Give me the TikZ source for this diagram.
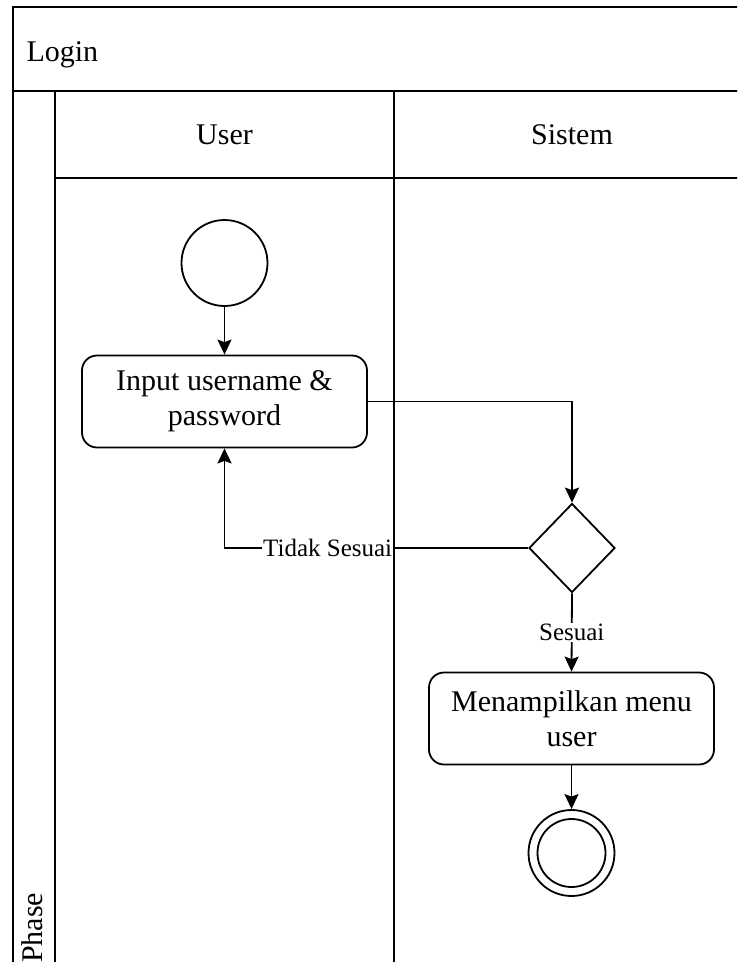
\documentclass[tikz,border=0pt]{standalone}
\usepackage{fontspec}
\setmainfont{Liberation Serif}
\usetikzlibrary{shapes.geometric,arrows.meta}
\begin{document}
\begin{tikzpicture}[x=1pt,y=-1pt,
  frame/.style={line width=2pt},
  conn/.style={line width=1.8pt,-{Stealth[length=15pt,width=14pt,inset=2.5pt]}},
  big/.style={font=\fontsize{30}{35}\selectfont},
  small/.style={font=\fontsize{25}{28}\selectfont},
  activity/.style={draw,line width=1.8pt,rounded corners=15pt,minimum width=285pt,minimum height=92pt,align=center,inner sep=0pt,big},
  startnode/.style={draw,circle,line width=1.8pt,minimum size=86pt,inner sep=0pt},
  decision/.style={draw,diamond,line width=1.8pt,minimum width=86pt,minimum height=89pt,inner sep=0pt},
  lbl/.style={fill=white,inner sep=1pt,small}]
\useasboundingbox (0,0) rectangle (737,962);
\clip (0,0) rectangle (737,962);
% pool frame
\draw[frame] (760,7) -- (12.5,7) -- (12.5,980);
\draw[frame] (12.5,91) -- (760,91);
\draw[frame] (55,91) -- (55,980);
\draw[frame] (55,178) -- (760,178);
\draw[frame] (393.5,91) -- (393.5,980);
\node[big,anchor=base west] (title) at (23,61) {Login};
\node[big] (laneU) at (224.5,135) {User};
\node[big] (laneS) at (572,135) {Sistem};
\node[big,rotate=90,anchor=base west,inner sep=0pt] (phase) at (42,963) {Phase};
% nodes
\node[startnode] (start) at (224.5,263) {};
\node[activity] (input) at (224.5,401.5) {Input username \&\\password};
\node[decision] (dec) at (572,548) {};
\node[activity] (menu) at (571.5,718.5) {Menampilkan menu\\user};
\node[startnode] (end) at (571.5,853) {};
\draw[line width=1.8pt] (end.center) circle (34);
% connectors
\draw[conn] (start) -- (input);
\draw[conn] (input.east) -| (dec.north);
\draw[conn] (dec.west) -| node[lbl,pos=0.33] {Tidak Sesuai} (input.south);
\draw[conn] (dec.south) -- node[lbl] {Sesuai} (menu.north);
\draw[conn] (menu) -- (end);
\end{tikzpicture}
\end{document}
